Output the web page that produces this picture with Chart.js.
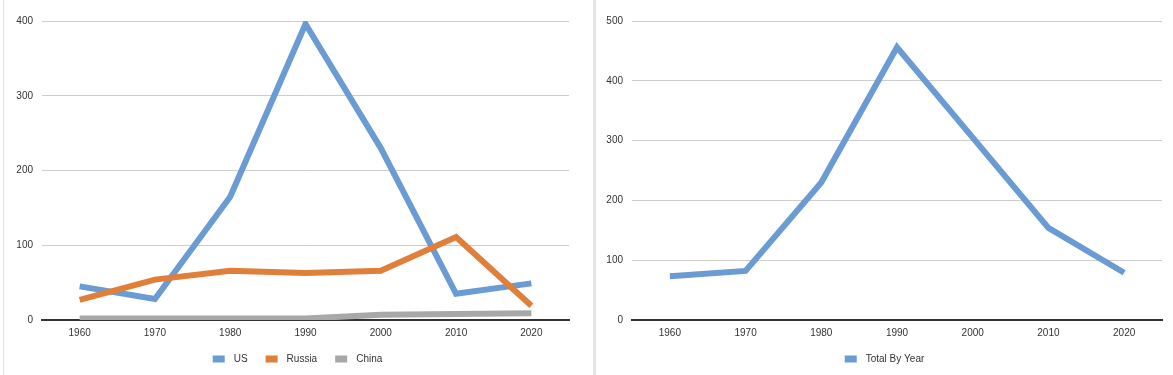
<!DOCTYPE html>
<html>
<head>
<meta charset="utf-8">
<script src="https://cdn.jsdelivr.net/npm/chart.js@4/dist/chart.umd.min.js"></script>
<style>
  html, body { margin: 0; padding: 0; background: #fff; }
  body { width: 1173px; height: 375px; position: relative; overflow: hidden; }
  .box { position: absolute; top: 0; height: 375px; }
  #leftBox { left: 3px; width: 587px; border-left: 1px solid #e2e2e2; }
  #rightBox { left: 593px; width: 580px; border-left: 3px solid #e4e4e4; }
</style>
</head>
<body>
<div class="box" id="leftBox"><canvas id="countryChart" width="587" height="375"></canvas></div>
<div class="box" id="rightBox"><canvas id="totalChart" width="577" height="375"></canvas></div>
<script>
const years = ['1960', '1970', '1980', '1990', '2000', '2010', '2020'];
const usValues = [45, 28, 165, 396, 230, 35, 49];
const russiaValues = [27, 54, 66, 63, 66, 111, 19];
const chinaValues = [2, 2, 2, 2, 7, 8, 9];
const totalValues = [73, 82, 230, 456, 305, 154, 79];

const BLUE = '#6a9bd3';
const ORANGE = '#e07f3a';
const GRAY = '#a8a8a8';
const FONT = '"Liberation Sans", Arial, sans-serif';

Chart.defaults.font.family = FONT;
Chart.defaults.font.size = 10;
Chart.defaults.color = '#333';

// the built-in legend can't space items apart without also pushing it down,
// so draw a small one here from the dataset labels/colours
const spacedLegend = {
    id: 'spacedLegend',
    afterDraw(chart, args, opts) {
        const ctx = chart.ctx;
        const items = chart.data.datasets.map(ds => ({ text: ds.label, color: ds.borderColor }));
        ctx.save();
        ctx.font = '10px ' + FONT;
        const widths = items.map(it => opts.boxWidth + opts.textGap + ctx.measureText(it.text).width);
        const total = widths.reduce((a, b) => a + b, 0) + opts.itemGap * (items.length - 1);
        let x = (chart.width - total) / 2;
        items.forEach((it, i) => {
            ctx.fillStyle = it.color;
            ctx.fillRect(x, opts.y - opts.boxHeight / 2, opts.boxWidth, opts.boxHeight);
            ctx.fillStyle = '#333';
            ctx.textBaseline = 'middle';
            ctx.fillText(it.text, x + opts.boxWidth + opts.textGap, opts.y);
            x += widths[i] + opts.itemGap;
        });
        ctx.restore();
    }
};

function lineSet(label, data, color, order) {
    return {
        label: label,
        data: data,
        borderColor: color,
        backgroundColor: color,
        borderWidth: 6,
        pointRadius: 0,
        tension: 0,
        borderJoinStyle: 'miter',
        order: order
    };
}

function baseOptions(yMax, axisWidth, padRight) {
    return {
        responsive: false,
        animation: false,
        layout: { padding: { top: 21, right: padRight, left: 0, bottom: 31 } },
        scales: {
            x: {
                offset: true,
                grid: { display: false, drawTicks: false },
                border: { color: '#333', width: 2 },
                ticks: { padding: 7, maxRotation: 0 },
                afterFit: scale => { scale.height = 24; }
            },
            y: {
                min: 0,
                max: yMax,
                ticks: { stepSize: 100, padding: 9 },
                grid: { color: '#cdcdcd', lineWidth: 1, drawTicks: false },
                border: { display: false },
                afterFit: scale => { scale.width = axisWidth; }
            }
        },
        plugins: {
            tooltip: { enabled: false },
            legend: { display: false },
            spacedLegend: { y: 359, boxWidth: 12, boxHeight: 7, textGap: 9, itemGap: 18 }
        }
    };
}

new Chart(document.getElementById('countryChart'), {
    type: 'line',
    data: {
        labels: years,
        datasets: [
            lineSet('US', usValues, BLUE, 2),
            lineSet('Russia', russiaValues, ORANGE, 1),
            lineSet('China', chinaValues, GRAY, 0)
        ]
    },
    options: baseOptions(400, 38, 22),
    plugins: [spacedLegend]
});

new Chart(document.getElementById('totalChart'), {
    type: 'line',
    data: {
        labels: years,
        datasets: [lineSet('Total By Year', totalValues, BLUE, 0)]
    },
    options: baseOptions(500, 36, 11),
    plugins: [spacedLegend]
});
</script>
</body>
</html>
